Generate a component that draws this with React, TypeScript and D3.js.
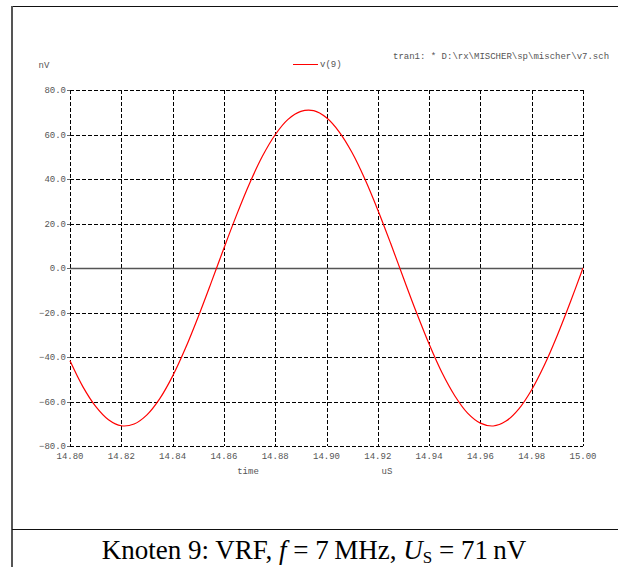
import { useEffect, useRef } from "react";
import * as d3 from "d3";

// time axis in microseconds, one sample every 5 ns
const times = [
  14.8, 14.805, 14.81, 14.815, 14.82, 14.825, 14.83, 14.835, 14.84, 14.845,
  14.85, 14.855, 14.86, 14.865, 14.87, 14.875, 14.88, 14.885, 14.89, 14.895,
  14.9, 14.905, 14.91, 14.915, 14.92, 14.925, 14.93, 14.935, 14.94, 14.945,
  14.95, 14.955, 14.96, 14.965, 14.97, 14.975, 14.98, 14.985, 14.99, 14.995,
  15.0,
];

// v(9) in nV
const v9 = [
  -41.7, -53.3, -62.2, -68.2, -70.9, -70.1, -66.0, -58.7, -48.6, -36.1,
  -21.9, -6.7, 8.9, 24.0, 38.0, 50.2, 59.9, 66.8, 70.4, 70.7,
  67.5, 61.1, 51.8, 39.9, 26.1, 11.1, -4.5, -19.8, -34.2, -47.0,
  -57.4, -65.2, -69.7, -71.0, -68.8, -63.3, -54.7, -43.5, -30.2, -15.5,
  0.0,
];

const xTicks = [14.8, 14.82, 14.84, 14.86, 14.88, 14.9, 14.92, 14.94, 14.96, 14.98, 15.0];
const yTicks = [-80, -60, -40, -20, 0, 20, 40, 60, 80];

export default function App() {
  const ref = useRef<SVGSVGElement>(null);

  useEffect(() => {
    if (!ref.current) return;
    const svg = d3.select(ref.current);
    svg.selectAll("*").remove();

    const width = 618;
    const height = 567;
    const mono = "'Liberation Mono', 'DejaVu Sans Mono', monospace";
    const textGray = "#555";

    // outer frame
    svg.append("rect").attr("width", width).attr("height", height).attr("fill", "white");
    svg
      .append("line")
      .attr("x1", 11).attr("x2", width).attr("y1", 6.5).attr("y2", 6.5)
      .attr("stroke", "#111").attr("stroke-width", 1);
    svg
      .append("line")
      .attr("x1", 12).attr("x2", 12).attr("y1", 6).attr("y2", height)
      .attr("stroke", "#555").attr("stroke-width", 2);
    svg
      .append("line")
      .attr("x1", 12).attr("x2", width).attr("y1", 529.5).attr("y2", 529.5)
      .attr("stroke", "#111").attr("stroke-width", 1);

    const x = d3.scaleLinear().domain([14.8, 15.0]).range([70, 583]);
    const y = d3.scaleLinear().domain([-80, 80]).range([446, 90]);

    const g = svg.append("g");

    // grid (dashed), including the plot border
    g.selectAll(".vgrid")
      .data(xTicks)
      .enter()
      .append("line")
      .attr("x1", (d) => Math.round(x(d)) + 0.5)
      .attr("x2", (d) => Math.round(x(d)) + 0.5)
      .attr("y1", y(80))
      .attr("y2", y(-80))
      .attr("stroke", "#000")
      .attr("stroke-dasharray", "4,2");

    g.selectAll(".hgrid")
      .data(yTicks.filter((d) => d !== 0))
      .enter()
      .append("line")
      .attr("x1", x(14.8))
      .attr("x2", x(15.0))
      .attr("y1", (d) => Math.round(y(d)) + 0.5)
      .attr("y2", (d) => Math.round(y(d)) + 0.5)
      .attr("stroke", "#000")
      .attr("stroke-dasharray", "4,2");

    // small tick marks on the left
    g.selectAll(".ytick")
      .data(yTicks)
      .enter()
      .append("line")
      .attr("x1", x(14.8) - 3)
      .attr("x2", x(14.8))
      .attr("y1", (d) => Math.round(y(d)) + 0.5)
      .attr("y2", (d) => Math.round(y(d)) + 0.5)
      .attr("stroke", "#666");

    // zero line
    g.append("line")
      .attr("x1", x(14.8))
      .attr("x2", x(15.0))
      .attr("y1", Math.round(y(0)) + 0.5)
      .attr("y2", Math.round(y(0)) + 0.5)
      .attr("stroke", "#555")
      .attr("stroke-width", 1.5);

    // y labels
    g.selectAll(".ylab")
      .data(yTicks)
      .enter()
      .append("text")
      .attr("x", x(14.8) - 4)
      .attr("y", (d) => y(d) + 3)
      .attr("text-anchor", "end")
      .style("font-family", mono)
      .style("font-size", "9px")
      .style("fill", textGray)
      .text((d) => d3.format(".1f")(d));

    // x labels
    g.selectAll(".xlab")
      .data(xTicks)
      .enter()
      .append("text")
      .attr("x", (d) => x(d))
      .attr("y", y(-80) + 13)
      .attr("text-anchor", "middle")
      .style("font-family", mono)
      .style("font-size", "9px")
      .style("fill", textGray)
      .text((d) => d3.format(".2f")(d));

    const small = (tx: number, ty: number, s: string, anchor = "start") =>
      svg
        .append("text")
        .attr("x", tx)
        .attr("y", ty)
        .attr("text-anchor", anchor)
        .style("font-family", mono)
        .style("font-size", "9px")
        .style("fill", textGray)
        .text(s);

    small(248, 474, "time", "middle");
    small(387, 474, "uS", "middle");
    small(44, 68, "nV", "middle");
    small(393, 59, "tran1: * D:\\rx\\MISCHER\\sp\\mischer\\v7.sch");

    // legend
    svg
      .append("line")
      .attr("x1", 293).attr("x2", 318).attr("y1", 64.5).attr("y2", 64.5)
      .attr("stroke", "red");
    small(320, 67, "v(9)");

    // curve
    const pts = times.map((t, i) => [t, v9[i]] as [number, number]);
    const line = d3
      .line<[number, number]>()
      .x((d) => x(d[0]))
      .y((d) => y(d[1]))
      .curve(d3.curveCatmullRom);
    g.append("path")
      .datum(pts)
      .attr("d", line)
      .attr("fill", "none")
      .attr("stroke", "red")
      .attr("stroke-width", 1.2);

    // caption
    const cap = svg
      .append("text")
      .attr("x", 314)
      .attr("y", 559)
      .attr("text-anchor", "middle")
      .style("font-family", "'Liberation Serif', 'Times New Roman', serif")
      .style("font-size", "27px")
      .style("fill", "#000");
    cap.append("tspan").text("Knoten 9: VRF, ");
    cap.append("tspan").style("font-style", "italic").text("f");
    cap.append("tspan").text(" = 7\u2009MHz, ");
    cap.append("tspan").style("font-style", "italic").text("U");
    cap.append("tspan").attr("dy", 4).style("font-size", "17px").text("S");
    cap.append("tspan").attr("dy", -4).text(" = 71\u2009nV");
  }, []);

  return (
    <svg
      ref={ref}
      width={618}
      height={567}
      style={{ position: "absolute", left: 0, top: 0, display: "block" }}
    />
  );
}
